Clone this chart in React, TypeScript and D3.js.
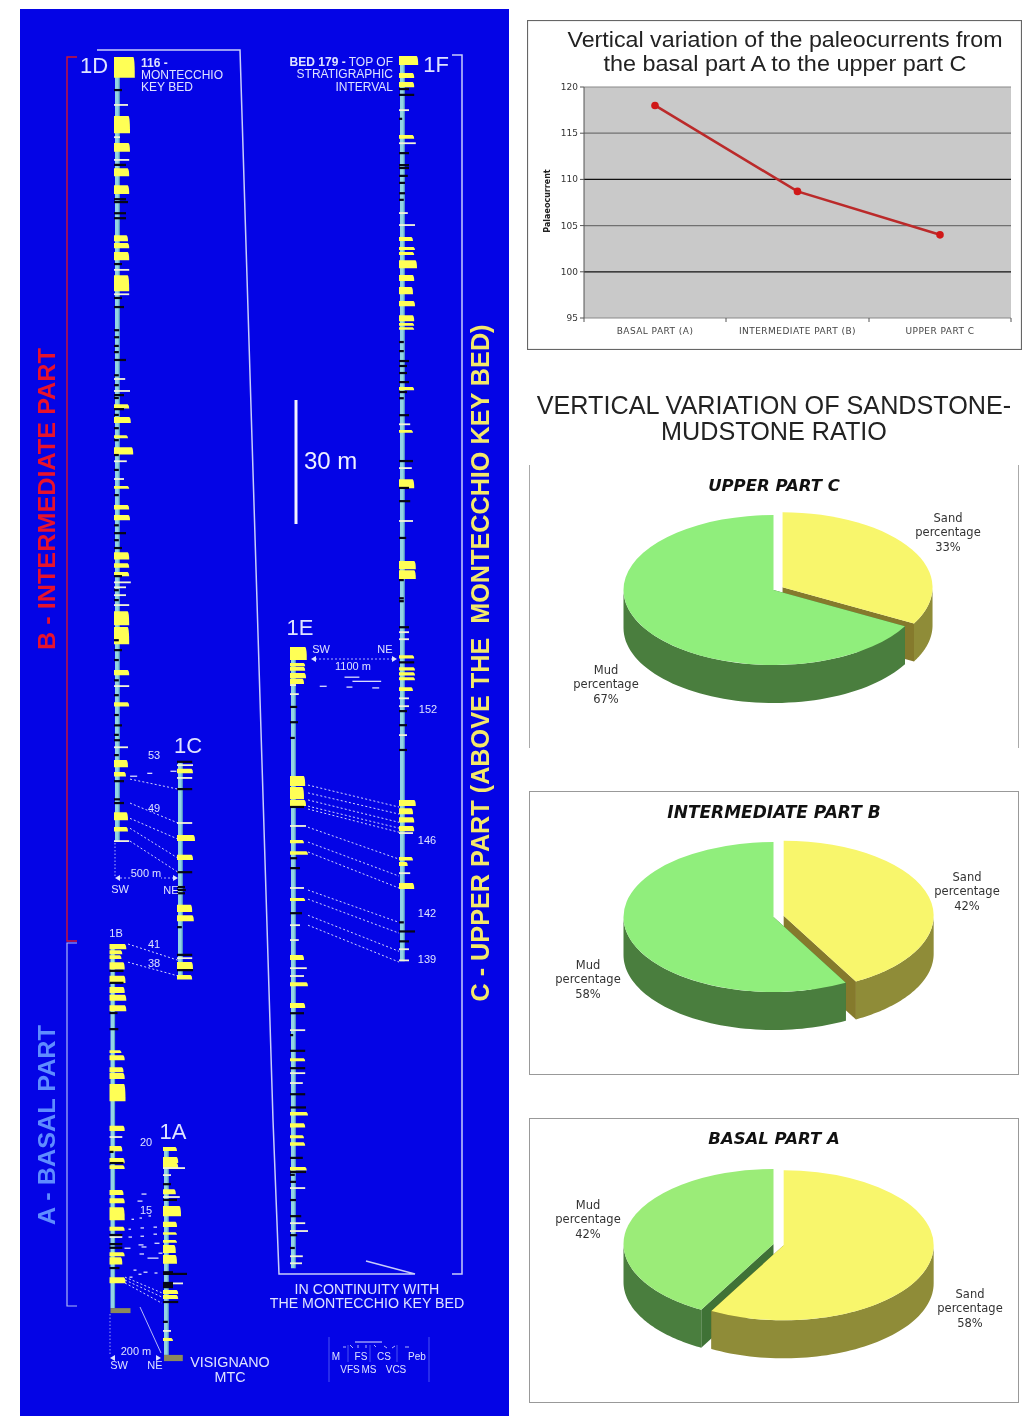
import React from "react";
import * as d3 from "d3";

// ---------- DATA: line chart ----------
const partNames = ["BASAL PART (A)", "INTERMEDIATE PART (B)", "UPPER PART C"];
const paleocurrents = [118, 108.7, 104];
const paleoTicks = [95, 100, 105, 110, 115, 120];

// ---------- DATA: pies (sand %, mud %) ----------
const pieTitles = ["UPPER PART C", "INTERMEDIATE PART B", "BASAL PART A"];
const sandPercent = [33, 42, 58];
const mudPercent = [67, 58, 42];

// ---------- DATA: logs. sand = [depth m, thickness m, grain class]; thin / mud = [depth m, grain class]
const d1Sand = [[0,4.8,5.2],[14.3,3.9,4],[20.8,1.9,4],[26.9,1.7,3.8],[31,1.9,3.8],[43.1,1.2,3.5],[45,1,3.8],[47.2,1.7,3.8],[52.8,3.6,3.8],[84,.8,3.8],[87.1,1.2,4.2],[91.5,.5,3.5],[94.4,1.5,4.8],[103.8,.4,3.8],[108.4,.8,3.8],[110.8,1,4],[119.8,1.5,3.8],[122.5,.8,3.8],[124.6,.8,3.8],[134.1,3.1,3.8],[137.9,3.9,3.8],[148.3,1,3.8],[156.1,.8,3.8],[170.1,1.5,3.5],[173,.8,3],[182.7,1.7,3.5],[186.3,.8,3.5]];
const d1Thin = [[11.6,3.5],[19.4,1.5],[24.9,3.8],[51.5,3.8],[57.4,3.8],[77.9,2.8],[80.8,4],[97.8,3.2],[102.1,2.5],[127.1,4.2],[128.3,3],[130.2,3],[132.6,3.8],[152.2,3.8],[167,3.5],[189.7,3.8]];
const d1Mud = [[8,2],[26.1,3],[34.4,3],[35.1,3.5],[37.8,3],[39,3],[50.1,2],[58.3,2],[60.5,2.5],[66.1,1.3],[67.8,1.3],[69.9,1.2],[71.4,1.2],[73.3,3],[77,1.2],[79.4,1.2],[81.8,2.5],[82.5,1.2],[85.2,2.5],[86.6,1.2],[89.8,1.2],[92.7,1.2],[96.3,1.2],[99.9,1.2],[106,1.2],[113.3,1.2],[115.2,3],[116.9,1.2],[118.8,2],[125.6,2],[129,1.2],[131.4,1.2],[141.1,1.2],[143.5,2],[145.9,1.2],[150.8,1.2],[154.4,1.2],[159.2,1.2],[161.7,2],[164,1.2],[165.3,1.5],[168.9,1.2],[175.2,2.5],[179.6,1.5],[180.5,2.5]];

const c1Sand = [[1.9,.8,4],[17.9,1.2,4.5],[22.7,1,4],[34.8,1.5,3.8],[37.3,1.2,4.2],[48.6,1.5,4],[51.8,.8,3.8]];
const c1Thin = [[1,4],[4.1,3.8],[15,3.8],[47.7,3.8]];
const c1Mud = [[.2,3.8],[6.8,3.8],[26.9,3.8],[30.5,2],[31.2,2.2],[32,2],[40.2,1.2],[46.9,3.8],[50.6,4]];

const b1Sand = [[0,1,4.2],[1.5,.7,3.2],[2.7,.7,3],[4.4,1.5,3.8],[7.7,1.5,4],[10.4,1.2,3.8],[12.3,1.2,4.2],[14.8,1.2,4.2],[25.7,.4,3],[26.9,1,3.8],[29.8,1,3.5],[31.2,1.2,3.8],[33.9,3.9,4],[44,1,3.8],[48.9,1,3.2],[51.8,1,3.8],[53.5,.7,3.8],[59.5,1,3.5],[61.5,1,3.8],[63.7,2.9,3.8],[68.4,.7,3.8],[74.6,.7,3.8],[75.8,1.5,3.2],[80.6,1.2,4]];
const b1Thin = [[46.7,3.2],[70.9,3.2]];
const b1Mud = [[6.5,3.5],[9.4,3.5],[16.7,2],[20.6,2.2],[50.3,1],[53,3.5],[70.4,3.2],[72.6,3.2],[73.5,3.2],[78.4,2.5]];

const a1Sand = [[0,.7,3.5],[2.4,1.2,3.8],[3.9,1,3.8],[10.2,1,3.2],[14.3,2.2,4.5],[18.1,1,3.5],[20.6,.4,3.5],[22.5,.4,3.5],[23.7,1.7,3.2],[26.1,1.9,3.5],[34.6,.7,3.8],[35.8,.7,3.8],[46.2,.5,2.5]];
const a1Thin = [[5.1,5.5],[6.8,2],[12.1,4.2],[33,5],[44.5,2]];
const a1Mud = [[9,2],[12.8,3.5],[30.3,2.5],[30.7,6],[32.9,2.5],[33.4,2.5],[33.9,2.5],[37.5,3.8],[42.3,1.2]];

const e1Sand = [[0,2.9,4.2],[3.9,.5,3.8],[4.8,.7,3.8],[6.3,1,4],[7.7,1,3.5],[31.2,2.2,3.8],[33.9,2.7,3.5],[37,1.2,4],[46.7,.5,3.5],[49.4,.6,4.5],[60.7,.5,3.8],[74.5,1,3.5],[81.1,.7,4.5],[86.1,1,3.8],[99.5,.5,3.8],[112.5,.6,4.5],[115.2,.8,3.8],[118.1,.5,3.5],[119.8,.6,3.8],[125.8,.6,4.2]];
const e1Thin = [[9.2,1.5],[11.4,2.2],[43.3,4],[58.3,3.5],[67.3,2.5],[70.9,2.2],[77.7,4.2],[79.6,3.5],[92.7,3.8],[103.1,3.8],[105.5,3.2],[130.9,3.8],[139.4,3.8],[141.3,4.5],[147.4,3.2],[149.1,3]];
const e1Mud = [[14.5,1.8],[18.2,2],[22,1.2],[38.7,3.5],[51.1,1.8],[53.5,2.5],[64.4,3],[88.6,3.5],[93.9,.8],[97.7,3.8],[101.9,3.8],[108.2,3.8],[111.4,4],[123.6,3.2],[127,4],[127.7,1.2],[129.4,1.5],[133.8,1.5],[137.7,2.8],[142.3,1.8],[145.4,1.2]];

const f1Sand = [[0,1.9,4.8],[4.1,1,3.8],[6.3,1,3.8],[19.1,.7,3.8],[43.8,.7,3.5],[46.2,.5,4],[47.4,.5,3.8],[49.4,1.7,4.5],[53,1.2,3.8],[55.9,1.5,3.5],[59.3,1,4],[62.7,1.2,3.8],[64.6,.4,3.8],[65.6,.4,3.8],[80.1,.5,3.8],[90.5,.4,3.5],[102.4,1.9,3.8],[122.2,1.7,4.2],[124.4,1.9,4.2],[145,.5,3.8],[147.9,.5,4],[149.1,.5,4],[150.3,.5,4],[152.7,.7,3.5],[180,1.2,4.2],[182,1.2,3.5],[184.2,1,3.8],[186.3,1,3.8],[193.8,.6,3.5],[195,.7,2.2],[200.1,1.2,3.8]];
const f1Thin = [[13.1,2.5],[21.1,4.2],[38,2.2],[40.9,4],[89.1,2.8],[99.7,3.2],[112.5,3.5],[139.4,2.5],[141.1,2.5],[155.4,2.5],[157.3,2.5],[164.3,2],[188,3.5],[197.7,2.8],[216.1,2.5],[218.8,2.5]];
const f1Mud = [[8,2.5],[9.4,3.8],[15.2,.8],[23.5,2.5],[26.4,2.5],[27.1,2.5],[29,2.2],[30.7,1.5],[33.2,1.5],[34.8,1.2],[69.2,1.2],[71.4,1.2],[73.8,2.5],[75,2],[76.7,2],[78.9,2.5],[81.3,2],[82.8,1.2],[86.9,2.5],[98,3.5],[104.5,2.5],[107.7,2.8],[116.6,1.8],[126.8,1.2],[131.2,1.2],[131.9,1.2],[138.2,2.5],[146.7,3.8],[158.5,2],[161.9,2],[167.9,2],[209.6,1.2],[211.8,4],[214.2,2.5]];

// correlations: [depth in left log m, depth in right log m]
const corrEF = [[33.4,181.7],[35.3,183.4],[37,185.4],[38.5,186.8],[39.2,187.8],[43.6,194.3],[47.2,198.4],[49.6,201.3],[58.8,209.6],[61,212.2],[64.9,216.6],[67.3,219.2]];
const corrDC = [[174.7,6.8],[180.5,15],[184.2,18.9],[186.6,23.5],[189.7,26.9]];
const corrBC = [[0,48.2],[4.4,52]];
const corrBA = [[80.6,35.3],[81.3,36.3],[82,37.8]];

// isolated beds between logs: [distance from left log m, depth in left log m, length m]
const floatBA = [[124,60.5,20],[108,62.2,20],[84,66.6,10],[116,66.3,10],[152,65.8,10],[72,69,10],[120,68.7,14],[172,68.5,14],[72,70.9,14],[120,70.7,14],[172,70.2,14],[112,72.8,20],[124,73.3,20],[176,72.4,20],[56,73.6,24],[116,75,18],[148,76,44],[192,74.8,16],[92,78.9,12],[132,79.4,16],[176,79.6,12],[112,79.9,12],[76,80.6,12]];
const floatDC = [[120,174,56],[256,173.3,40],[440,172.8,48]];
const floatEF = [[540,7.3,150],[620,8.3,290],[290,9.5,70],[560,9.7,60],[820,9.9,70]];

const blueBg = "#0404e6";
const ink = "#dfe3ff";
const sansFont = "'Liberation Sans', Arial, sans-serif";
const verdana = "'DejaVu Sans', Verdana, sans-serif";

const depth = d3.scaleLinear().domain([0, 30]).range([0, 124]);
const grain = d3.scaleLinear().domain([0, 6]).range([0, 24]);

type Log = { id: string; x: number; top: number; end: number; sand: number[][]; thin: number[][]; mud: number[][]; base?: number[] };
const logD: Log = { id: "1D", x: 115, top: 57, end: 189.9, sand: d1Sand, thin: d1Thin, mud: d1Mud };
const logC: Log = { id: "1C", x: 178, top: 761, end: 52.5, sand: c1Sand, thin: c1Thin, mud: c1Mud };
const logB: Log = { id: "1B", x: 110.5, top: 944, end: 88.1, sand: b1Sand, thin: b1Thin, mud: b1Mud, base: [88.1, 1.2, 5] };
const logA: Log = { id: "1A", x: 164, top: 1147, end: 50.3, sand: a1Sand, thin: a1Thin, mud: a1Mud, base: [50.3, 1.5, 4.7] };
const logE: Log = { id: "1E", x: 291, top: 647, end: 150.3, sand: e1Sand, thin: e1Thin, mud: e1Mud };
const logF: Log = { id: "1F", x: 400, top: 56, end: 219, sand: f1Sand, thin: f1Thin, mud: f1Mud };
const logs = [logD, logC, logB, logA, logE, logF];

function LogColumn({ log }: { log: Log }) {
  const Y = (m: number) => log.top + depth(m);
  return (
    <g>
      <rect x={log.x} y={log.top} width={4.5} height={depth(log.end)} fill="#93d4e4" />
      <rect x={log.x + 3.6} y={log.top} width={1} height={depth(log.end)} fill="#5aa6c0" />
      {log.sand.map((b, i) => {
        const x0 = log.x - 1, x1 = x0 + grain(b[2]), y0 = Y(b[0]), y1 = Y(b[0] + b[1] + 0.25);
        return <path key={"s" + i} fill="#ffff55" d={`M${x0},${y0}H${x1 - 1.5}Q${x1},${y0 + 1} ${x1},${y1}H${x0}Z`} />;
      })}
      {log.thin.map((b, i) => (
        <rect key={"t" + i} x={log.x - 1} y={Y(b[0]) - 0.9} width={grain(b[1])} height={1.8} fill="#f3f4d8" />
      ))}
      {log.mud.map((b, i) => (
        <rect key={"m" + i} x={log.x - 1} y={Y(b[0]) - 1.1} width={grain(b[1])} height={2.2} fill="#060618" />
      ))}
      {log.base && (
        <rect x={log.x} y={Y(log.base[0])} width={grain(log.base[2])} height={depth(log.base[1])} fill="#8c8a5c" />
      )}
    </g>
  );
}

function Correlation({ pairs, a, b, xa, xb }: { pairs: number[][]; a: Log; b: Log; xa: number; xb: number }) {
  return (
    <g stroke="#e8ecff" strokeWidth={0.9} strokeDasharray="2 2.2" fill="none">
      {pairs.map((p, i) => (
        <line key={i} x1={xa} y1={a.top + depth(p[0])} x2={xb} y2={b.top + depth(p[1])} />
      ))}
    </g>
  );
}

function Floats({ rows, log, width, gap }: { rows: number[][]; log: Log; width: number; gap: number }) {
  const lateral = d3.scaleLinear().domain([0, width]).range([0, gap]);
  return (
    <g stroke="#f0f2ff" strokeWidth={1.2}>
      {rows.map((r, i) => (
        <line key={i} x1={log.x + lateral(r[0])} x2={log.x + lateral(r[0] + r[2])} y1={log.top + depth(r[1])} y2={log.top + depth(r[1])} />
      ))}
    </g>
  );
}

function Tri({ x, y, dir }: { x: number; y: number; dir: number }) {
  return <path d={`M${x},${y}l${dir * 5},-3v6Z`} fill={ink} />;
}

function T(p: any) {
  const { size = 11, anchor = "middle", fill = ink, family = sansFont, children, ...rest } = p;
  return (
    <text fontSize={size} textAnchor={anchor} fill={fill} fontFamily={family} {...rest}>
      {children}
    </text>
  );
}

function LeftPanel() {
  return (
    <g filter="url(#soft)">
      <rect x={20} y={9} width={489} height={1407} fill={blueBg} />
      {/* frame */}
      <path d="M97,50H240L273,1120L279,1274H415L366,1261" fill="none" stroke="#c8cdfa" strokeWidth={1.5} />
      <path d="M452,55H462V1274H452" fill="none" stroke="#c8cdfa" strokeWidth={1.5} />
      {/* part brackets */}
      <path d="M77,57H67V941H77" fill="none" stroke="#d2142e" strokeWidth={1.4} />
      <path d="M77,943H67V1306H77" fill="none" stroke="#aeb8f5" strokeWidth={1.2} />
      <T size={24} fontWeight="bold" fill="#e8122c" transform="translate(55,499) rotate(-90)" textLength={302} lengthAdjust="spacingAndGlyphs">B - INTERMEDIATE PART</T>
      <T size={24} fontWeight="bold" fill="#5f8cff" transform="translate(55,1125) rotate(-90)" textLength={200} lengthAdjust="spacingAndGlyphs">A - BASAL PART</T>
      <T size={25} fontWeight="bold" fill="#f4e86a" transform="translate(489,663) rotate(-90)" textLength={677} lengthAdjust="spacingAndGlyphs" xmlSpace="preserve">C - UPPER PART (ABOVE THE  MONTECCHIO KEY BED)</T>
      {/* scale bar */}
      <line x1={296} x2={296} y1={400} y2={400 + depth(30)} stroke="#f2f3ff" strokeWidth={3} />
      <T size={24} anchor="start" x={304} y={469} fill="#eef0ff">30 m</T>

      {logs.map((l) => <LogColumn key={l.id} log={l} />)}
      <Correlation pairs={corrEF} a={logE} b={logF} xa={308} xb={399} />
      <Correlation pairs={corrDC} a={logD} b={logC} xa={130} xb={178} />
      <Correlation pairs={corrBC} a={logB} b={logC} xa={128} xb={178} />
      <Correlation pairs={corrBA} a={logB} b={logA} xa={125} xb={162} />
      <Floats rows={floatBA} log={logB} width={200} gap={50} />
      <Floats rows={floatDC} log={logD} width={500} gap={63} />
      <Floats rows={floatEF} log={logE} width={1100} gap={109} />

      {/* log names */}
      <T size={22} x={94} y={73}>1D</T>
      <T size={22} x={436} y={72}>1F</T>
      <T size={22} x={300} y={635}>1E</T>
      <T size={22} x={188} y={753}>1C</T>
      <T size={22} x={173} y={1139}>1A</T>
      <T size={11} x={116} y={937}>1B</T>

      <T size={12} anchor="start" x={141} y={67} fontWeight="bold">116 -</T>
      <T size={12} anchor="start" x={141} y={79}>MONTECCHIO</T>
      <T size={12} anchor="start" x={141} y={91}>KEY BED</T>
      <T size={12} anchor="end" x={393} y={66}><tspan fontWeight="bold">BED 179 -</tspan> TOP OF</T>
      <T size={12} anchor="end" x={393} y={78}>STRATIGRAPHIC</T>
      <T size={12} anchor="end" x={393} y={91}>INTERVAL</T>

      {[["53",154,759],["49",154,812],["41",154,948],["38",154,967],["20",146,1146],["15",146,1214],["152",428,713],["146",427,844],["142",427,917],["139",427,963]].map((n) => (
        <T key={n[0] as string} size={11} x={n[1]} y={n[2]}>{n[0]}</T>
      ))}

      {/* 1D-1C distance */}
      <line x1={115} x2={115} y1={843} y2={876} stroke={ink} strokeWidth={0.8} strokeDasharray="1.5 2" />
      <line x1={120} x2={174} y1={878} y2={878} stroke={ink} strokeWidth={0.8} strokeDasharray="2 2" />
      <Tri x={115} y={878} dir={1} /><Tri x={178} y={878} dir={-1} />
      <rect x={131} y={868} width={30} height={11} fill={blueBg} />
      <T x={146} y={877}>500 m</T>
      <T x={120} y={893}>SW</T><T x={171} y={894}>NE</T>

      {/* 1E-1F distance */}
      <line x1={315} x2={392} y1={659} y2={659} stroke={ink} strokeWidth={0.8} strokeDasharray="2 2" />
      <Tri x={311} y={659} dir={1} /><Tri x={397} y={659} dir={-1} />
      <T x={321} y={653}>SW</T><T x={385} y={653}>NE</T>
      <T x={353} y={670}>1100 m</T>

      {/* 1B-1A distance */}
      <line x1={110} x2={110} y1={1314} y2={1356} stroke={ink} strokeWidth={0.7} strokeDasharray="1.5 2" />
      <line x1={140} x2={161} y1={1307} y2={1353} stroke="#c8cdfa" strokeWidth={0.9} />
      <Tri x={110} y={1358} dir={1} /><Tri x={161} y={1358} dir={-1} />
      <T x={136} y={1355}>200 m</T>
      <T x={119} y={1369}>SW</T><T x={155} y={1369}>NE</T>

      <T size={14.3} x={230} y={1367}>VISIGNANO</T>
      <T size={14.3} x={230} y={1382}>MTC</T>
      <T size={14.2} x={367} y={1294}>IN CONTINUITY WITH</T>
      <T size={14.2} x={367} y={1308}>THE MONTECCHIO KEY BED</T>

      {/* grain legend */}
      <g stroke="#4b52f2" strokeWidth={1}>
        {[329, 348, 370, 397, 429].map((x, i) => (
          <line key={x} x1={x} x2={x} y1={i === 0 || i === 4 ? 1337 : 1345} y2={i === 0 || i === 4 ? 1382 : 1362} />
        ))}
      </g>
      <line x1={355} x2={382} y1={1342} y2={1342} stroke={ink} strokeWidth={1} />
      <path d="M343,1347h3M350,1345l3,3M358,1345v3M366,1345v3M374,1345l2,2M384,1346l3,2M392,1348l3,-2M405,1347h4" stroke={ink} strokeWidth={0.8} fill="none" />
      {[["M",336,1360],["FS",361,1360],["CS",384,1360],["Peb",417,1360],["VFS",350,1373],["MS",369,1373],["VCS",396,1373]].map((n) => (
        <T key={n[0] as string} size={10} x={n[1]} y={n[2]}>{n[0]}</T>
      ))}
    </g>
  );
}

function LineChart() {
  const x = d3.scalePoint().domain(partNames).range([655, 940]);
  const y = d3.scaleLinear().domain([95, 120]).range([318, 87]);
  const line = d3.line<number>().x((_, i) => x(partNames[i]) as number).y((d) => y(d));
  return (
    <g filter="url(#soft)">
      <rect x={527.5} y={20.5} width={494} height={329} fill="#fff" stroke="#666" strokeWidth={1.2} />
      <T size={22.4} fill="#222" x={785} y={47} textLength={435} lengthAdjust="spacingAndGlyphs">Vertical variation of the paleocurrents from</T>
      <T size={22.4} fill="#222" x={785} y={71} textLength={363} lengthAdjust="spacingAndGlyphs">the basal part A to the upper part C</T>
      <rect x={584} y={87} width={427} height={231} fill="#c9c9c9" />
      {paleoTicks.map((t) => (
        <g key={t}>
          <line x1={584} x2={1011} y1={y(t)} y2={y(t)} stroke={t === 100 || t === 110 ? "#111" : t === 95 || t === 120 ? "#8a8a8a" : "#707070"} strokeWidth={1.2} />
          <line x1={580} x2={584} y1={y(t)} y2={y(t)} stroke="#555" />
          <T size={9} anchor="end" fill="#333" family={verdana} x={578} y={y(t) + 3}>{t}</T>
        </g>
      ))}
      <line x1={584} x2={584} y1={87} y2={318} stroke="#555" />
      {[584, 726, 869, 1011].map((t) => <line key={t} x1={t} x2={t} y1={318} y2={322} stroke="#555" />)}
      {partNames.map((n) => (
        <T key={n} size={9} fill="#444" family={verdana} x={x(n)} y={334} letterSpacing={0.45}>{n}</T>
      ))}
      <T size={8} fill="#222" family={verdana} fontWeight="bold" transform="translate(550,201) rotate(-90)">Palaeocurrent</T>
      <path d={line(paleocurrents) as string} fill="none" stroke="#bb2a2a" strokeWidth={2.6} />
      {paleocurrents.map((v, i) => (
        <circle key={i} cx={x(partNames[i])} cy={y(v)} r={3.8} fill="#d01818" />
      ))}
    </g>
  );
}

function Pie3D({ idx, cy, labelSand, labelMud }: { idx: number; cy: number; labelSand: [number, number]; labelMud: [number, number] }) {
  const R = 150, k = 0.5, D = 38, cx = 773.5, explode = 10.5;
  const arcs = d3.pie<number>().sort(null)([sandPercent[idx], mudPercent[idx]]);
  const arcGen = d3.arc<any>().innerRadius(0).outerRadius(R);
  const colors = [
    { top: "#f8f66c", wall: "#8f8c38", cut: "#857a2c" },
    { top: idx === 2 ? "#9bec78" : "#90ee7c", wall: "#4a7e3e", cut: "#3f7236" },
  ];
  const line = d3.line();
  const draw = arcs.map((a, i) => {
    const mid = (a.startAngle + a.endAngle) / 2;
    const dx = i === 0 ? Math.sin(mid) * explode : 0;
    const dy = i === 0 ? -Math.cos(mid) * explode * k : 0;
    const ox = cx + dx, oy = cy + dy;
    const rim = (t: number): [number, number] => [ox + R * Math.sin(t), oy - R * k * Math.cos(t)];
    const lo = Math.max(a.startAngle, Math.PI / 2), hi = Math.min(a.endAngle, (3 * Math.PI) / 2);
    let wall = "";
    if (hi > lo) {
      const ts = d3.range(0, 61).map((j) => lo + ((hi - lo) * j) / 60);
      const front = ts.map(rim);
      const back = [...ts].reverse().map((t) => { const p = rim(t); return [p[0], p[1] + D] as [number, number]; });
      wall = line([...front, ...back]) + "Z";
    }
    const cut = (t: number) => {
      const p = rim(t);
      return line([[ox, oy], p, [p[0], p[1] + D], [ox, oy + D]]) + "Z";
    };
    return (
      <g key={i}>
        <path d={cut(a.startAngle)} fill={colors[i].cut} />
        <path d={cut(a.endAngle)} fill={colors[i].cut} />
        {wall && <path d={wall} fill={colors[i].wall} />}
        <path d={arcGen(a) as string} transform={`translate(${ox},${oy}) scale(1,${k})`} fill={colors[i].top} />
      </g>
    );
  });
  const ordered = arcs[0].endAngle < Math.PI ? draw : [draw[1], draw[0]];
  const label = (name: string, v: number, p: [number, number]) => (
    <g>
      {[name, "percentage", v + "%"].map((s, i) => (
        <T key={i} size={11.5} fill="#333" family={verdana} x={p[0]} y={p[1] + i * 14.3}>{s}</T>
      ))}
    </g>
  );
  return (
    <g>
      {ordered}
      {label("Sand", sandPercent[idx], labelSand)}
      {label("Mud", mudPercent[idx], labelMud)}
    </g>
  );
}

function RightPanels() {
  return (
    <g filter="url(#soft)">
      <T size={25.2} fill="#222" x={774} y={414}>VERTICAL VARIATION OF SANDSTONE-</T>
      <T size={25.2} fill="#222" x={774} y={440}>MUDSTONE RATIO</T>

      <path d="M529.5,465V748M1018.5,465V748" stroke="#aaa" strokeWidth={1} fill="none" />
      <rect x={529.5} y={791.5} width={489} height={283} fill="none" stroke="#999" strokeWidth={1} />
      <rect x={529.5} y={1118.5} width={489} height={284} fill="none" stroke="#999" strokeWidth={1} />
      {pieTitles.map((t, i) => (
        <T key={t} size={i === 1 ? 17 : 16.5} fontWeight="bold" fontStyle="italic" fill="#111" family={verdana} x={774} y={[491, 818, 1144][i]}>{t}</T>
      ))}
      <Pie3D idx={0} cy={590} labelSand={[948, 522]} labelMud={[606, 674]} />
      <Pie3D idx={1} cy={917} labelSand={[967, 881]} labelMud={[588, 969]} />
      <Pie3D idx={2} cy={1244} labelSand={[970, 1298]} labelMud={[588, 1209]} />
    </g>
  );
}

export default function App() {
  return (
    <svg width={1033} height={1416} viewBox="0 0 1033 1416" style={{ position: "absolute", left: 0, top: 0, background: "#fff" }}>
      <defs>
        <filter id="soft" x="0" y="0" width="100%" height="100%" colorInterpolationFilters="sRGB">
          <feGaussianBlur stdDeviation="0.45" />
        </filter>
      </defs>
      <LeftPanel />
      <LineChart />
      <RightPanels />
    </svg>
  );
}
